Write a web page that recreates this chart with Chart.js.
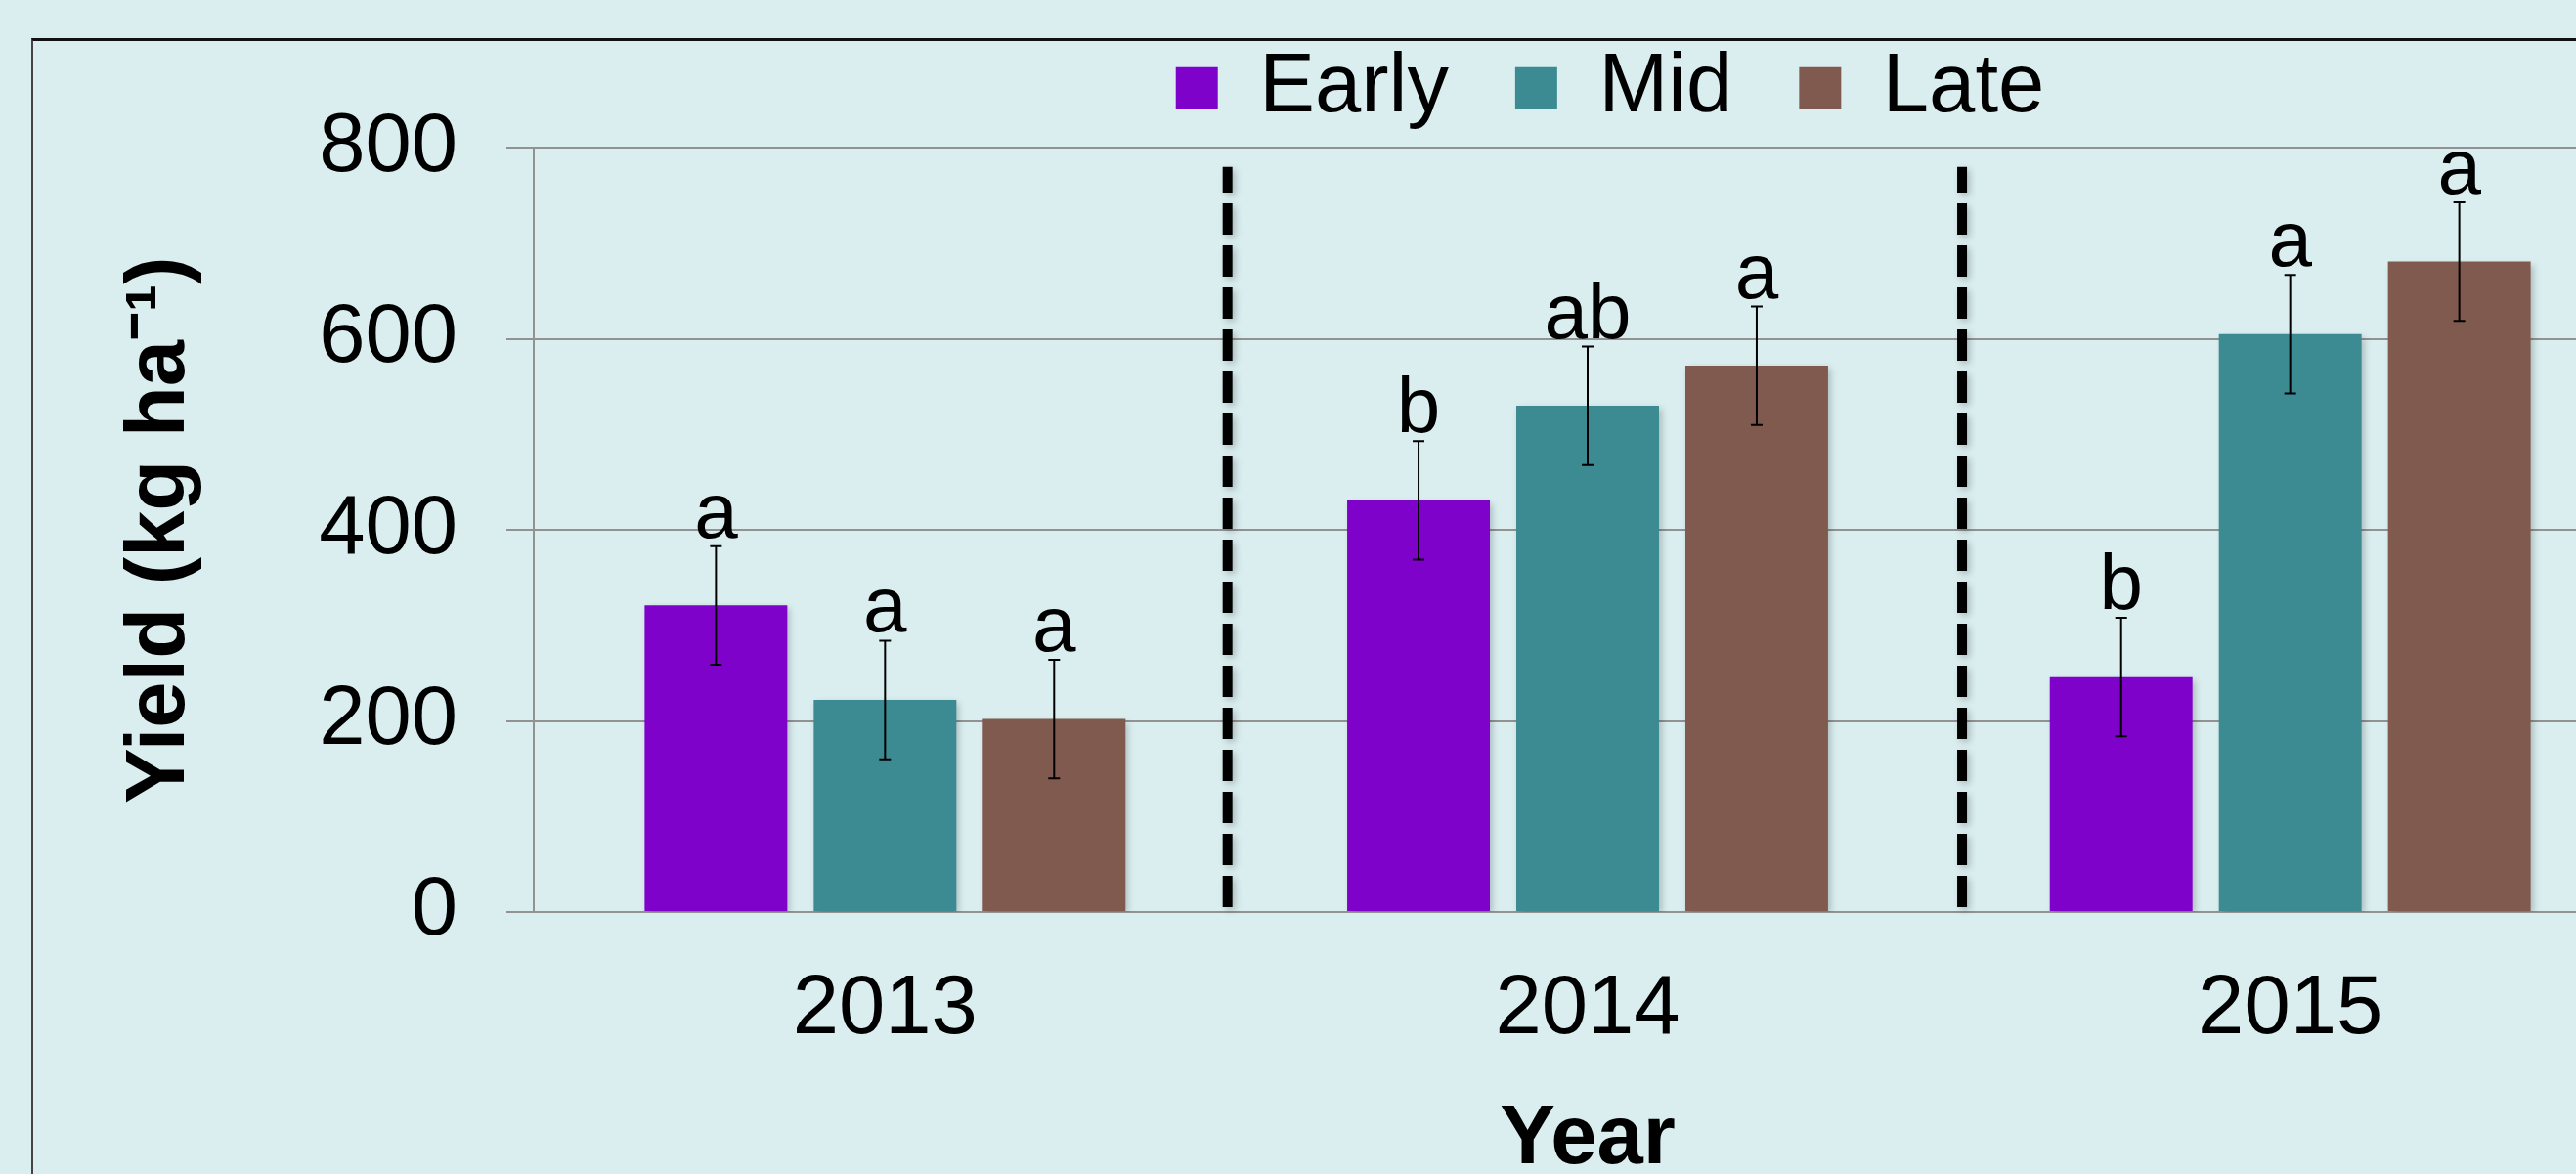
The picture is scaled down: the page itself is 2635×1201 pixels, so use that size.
<!DOCTYPE html>
<html>
<head>
<meta charset="utf-8">
<title>Yield by year</title>
<script src="https://cdn.jsdelivr.net/npm/chart.js@4.4.1/dist/chart.umd.min.js"></script>
<style>
  html, body {
    margin: 0;
    padding: 0;
    width: 2635px;
    height: 1201px;
    overflow: hidden;
    background: #daeef0;
  }
  .frame {
    position: absolute;
    left: 32px;
    top: 39px;
    width: 3000px;
    height: 3000px;
    border-top: 3px solid #111;
    border-left: 2px solid #444;
  }
  #yieldChart {
    position: absolute;
    left: 0;
    top: -40px;
  }
</style>
</head>
<body>
<div class="frame"></div>
<canvas id="yieldChart" width="2760" height="1268"></canvas>

<script>
// data
const years = ['2013', '2014', '2015'];
const seriesNames = ['Early', 'Mid', 'Late'];
const earlyYield = [321, 431, 246];
const midYield = [222, 530, 605];
const lateYield = [202, 572, 681];
const earlyErr = [62, 62, 62];
const midErr = [62, 62, 62];
const lateErr = [62, 62, 62];
const earlyLetters = ['a', 'b', 'b'];
const midLetters = ['a', 'ab', 'a'];
const lateLetters = ['a', 'a', 'a'];
const yTicks = [0, 200, 400, 600, 800];
// dashed separators, in category units, and their vertical span in yield units
const separatorAt = [0.4875, 1.533];
const separatorSpan = [5, 780];

const colors = ['#7f02cb', '#3d8b92', '#815a4f'];
const font = 'Liberation Sans, Arial, sans-serif';
const gridGray = '#929292';

const errors = [earlyErr, midErr, lateErr];
const letters = [earlyLetters, midLetters, lateLetters];

// legend in the original sits a little right of the plot centre
const LEGEND_SHIFT = 23;

const legendTweak = {
  id: 'legendTweak',
  beforeInit(chart) {
    const fit = chart.legend.fit;
    chart.legend.fit = function () {
      fit.call(this);
      this.height += 8.5; // a bit more air below the legend
    };
  },
  afterLayout(chart) {
    chart.legend.left += LEGEND_SHIFT;
    chart.legend.right += LEGEND_SHIFT;
  }
};

// soft shadow under the bars
const barShadow = {
  id: 'barShadow',
  beforeDatasetsDraw(chart) {
    const ctx = chart.ctx;
    ctx.save();
    ctx.shadowColor = 'rgba(0,0,0,0.22)';
    ctx.shadowBlur = 7;
    ctx.shadowOffsetX = 3;
    ctx.shadowOffsetY = 3;
  },
  afterDatasetsDraw(chart) {
    chart.ctx.restore();
  }
};

const separators = {
  id: 'separators',
  beforeDatasetsDraw(chart) {
    const ctx = chart.ctx;
    const x = chart.scales.x;
    const y = chart.scales.y;
    const step = x.getPixelForValue(1) - x.getPixelForValue(0);
    ctx.save();
    ctx.strokeStyle = '#000';
    ctx.lineWidth = 10;
    ctx.setLineDash([32, 11]);
    separatorAt.forEach(pos => {
      const px = x.getPixelForValue(0) + pos * step;
      ctx.beginPath();
      ctx.moveTo(px, y.getPixelForValue(separatorSpan[0]));
      ctx.lineTo(px, y.getPixelForValue(separatorSpan[1]));
      ctx.stroke();
    });
    ctx.restore();
  }
};

// error bars plus the significance letters
const errorBars = {
  id: 'errorBars',
  afterDatasetsDraw(chart) {
    const ctx = chart.ctx;
    const y = chart.scales.y;
    ctx.save();
    ctx.strokeStyle = '#000';
    ctx.fillStyle = '#000';
    ctx.lineWidth = 2;
    ctx.font = '80px ' + font;
    ctx.textAlign = 'center';
    ctx.textBaseline = 'alphabetic';
    chart.data.datasets.forEach((ds, i) => {
      const meta = chart.getDatasetMeta(i);
      meta.data.forEach((bar, j) => {
        const v = ds.data[j];
        const e = errors[i][j];
        const top = y.getPixelForValue(v + e);
        const bottom = y.getPixelForValue(v - e);
        ctx.beginPath();
        ctx.moveTo(bar.x, top);
        ctx.lineTo(bar.x, bottom);
        ctx.moveTo(bar.x - 6, top);
        ctx.lineTo(bar.x + 6, top);
        ctx.moveTo(bar.x - 6, bottom);
        ctx.lineTo(bar.x + 6, bottom);
        ctx.stroke();
        ctx.fillText(letters[i][j], bar.x, top - 9);
      });
    });
    ctx.restore();
  }
};

const ctx = document.getElementById('yieldChart').getContext('2d');
new Chart(ctx, {
  type: 'bar',
  data: {
    labels: years,
    datasets: [
      { label: seriesNames[0], data: earlyYield, backgroundColor: colors[0] },
      { label: seriesNames[1], data: midYield, backgroundColor: colors[1] },
      { label: seriesNames[2], data: lateYield, backgroundColor: colors[2] }
    ]
  },
  options: {
    responsive: false,
    animation: false,
    devicePixelRatio: 1,
    categoryPercentage: 0.722,
    barPercentage: 0.844,
    layout: {
      padding: { left: 0, right: 58, top: 19.8, bottom: 0 }
    },
    plugins: {
      legend: {
        position: 'top',
        fullSize: false,
        labels: {
          boxWidth: 43,
          boxHeight: 43,
          padding: 68,
          color: '#000',
          font: { family: font, size: 85 }
        }
      },
      tooltip: { enabled: false }
    },
    scales: {
      x: {
        grid: { display: false, drawTicks: false },
        border: { display: false },
        ticks: {
          color: '#000',
          padding: 49.5,
          font: { family: font, size: 85 }
        },
        title: {
          display: true,
          text: 'Year',
          color: '#000',
          padding: { top: 0, bottom: 10 },
          font: { family: font, size: 85, weight: 'bold' }
        },
        afterFit: (scale) => { scale.height = 295; }
      },
      y: {
        min: 0,
        max: 800,
        afterBuildTicks: (scale) => {
          scale.ticks = yTicks.map(v => ({ value: v }));
        },
        grid: {
          color: gridGray,
          lineWidth: 2,
          drawTicks: true,
          tickLength: 28,
          tickColor: gridGray
        },
        border: { display: true, color: gridGray, width: 2 },
        ticks: {
          color: '#000',
          padding: 50,
          font: { family: font, size: 85 }
        },
        title: {
          display: true,
          text: 'Yield (kg ha\u207B\u00B9)',
          color: '#000',
          padding: { top: 114, bottom: 0 },
          font: { family: font, size: 85, weight: 'bold' }
        },
        afterFit: (scale) => { scale.width = 546; }
      }
    }
  },
  plugins: [legendTweak, barShadow, separators, errorBars]
});
</script>
</body>
</html>
